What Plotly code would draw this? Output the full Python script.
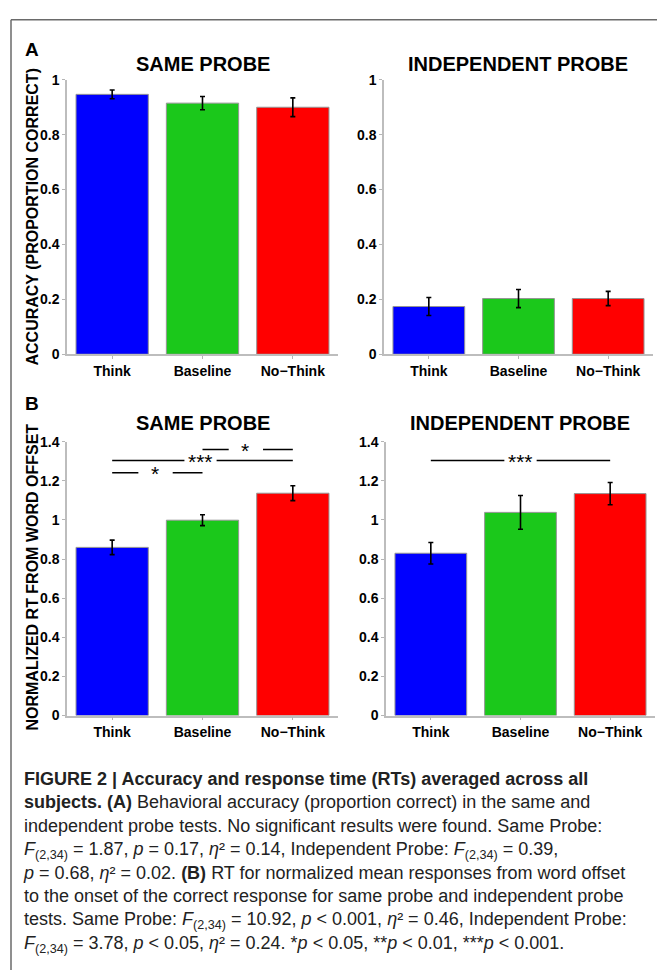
import plotly.graph_objects as go

W, H = 657, 978

categories = ["Think", "Baseline", "No\u2212Think"]
bar_colors = ["#0000FF", "#1BC81B", "#FF0000"]

# Panel A: accuracy (proportion correct)
acc_same = [0.947, 0.915, 0.900]
acc_same_err = [0.016, 0.024, 0.034]
acc_indep = [0.174, 0.203, 0.203]
acc_indep_err = [0.033, 0.033, 0.026]

# Panel B: normalized RT from word offset
rt_same = [0.860, 0.999, 1.137]
rt_same_err = [0.037, 0.028, 0.038]
rt_indep = [0.830, 1.039, 1.135]
rt_indep_err = [0.055, 0.086, 0.057]

# significance brackets: (from idx, to idx, y level, label, gap start, gap end, label x)
sig_same = [(0, 1, 1.242, "*", 0.29, 0.67, 0.47),
            (0, 2, 1.304, "***", 0.80, 1.156, 0.978),
            (1, 2, 1.36, "*", 1.29, 1.67, 1.47)]
sig_indep = [(0, 2, 1.304, "***", 0.82, 1.18, 1.0)]

panel_titles = ["SAME PROBE", "INDEPENDENT PROBE", "SAME PROBE", "INDEPENDENT PROBE"]

def px_x(p):
    return p / W

def px_y(p):
    return 1 - p / H

fig = go.Figure()

panels = [
    ("x", "y", acc_same, acc_same_err),
    ("x2", "y2", acc_indep, acc_indep_err),
    ("x3", "y3", rt_same, rt_same_err),
    ("x4", "y4", rt_indep, rt_indep_err),
]
for xa, ya, vals, errs in panels:
    fig.add_trace(go.Bar(
        x=[0, 1, 2], y=vals, xaxis=xa, yaxis=ya,
        marker=dict(color=bar_colors, line=dict(color="#959595", width=1)),
        error_y=dict(type="data", array=errs, visible=True, color="black",
                     thickness=1.6, width=2.5),
        width=0.8, showlegend=False, hoverinfo="skip",
    ))

axis_common = dict(showline=True, linecolor="#bdbdbd", linewidth=1.5,
                   ticks="outside", ticklen=3, tickcolor="#b5b5b5", tickwidth=1,
                   showgrid=False, zeroline=False,
                   tickfont=dict(family="Liberation Sans, Arial", size=14, color="black", weight="bold"))

domains = {
    "A_left_x": [px_x(67), px_x(338)],
    "A_right_x": [px_x(384), px_x(653)],
    "B_left_x": [px_x(67), px_x(338)],
    "B_right_x": [px_x(386), px_x(655)],
    "A_y": [px_y(352), px_y(73)],
    "B_y": [px_y(719.3), px_y(441)],
}

xcommon = dict(axis_common, range=[-0.5, 2.5], tickvals=[0, 1, 2], ticktext=categories)
fig.update_layout(
    xaxis=dict(xcommon, domain=domains["A_left_x"], anchor="y"),
    yaxis=dict(axis_common, domain=domains["A_y"], range=[0, 1], dtick=0.2, anchor="x"),
    xaxis2=dict(xcommon, domain=domains["A_right_x"], anchor="y2"),
    yaxis2=dict(axis_common, domain=domains["A_y"], range=[0, 1], dtick=0.2, anchor="x2"),
    xaxis3=dict(xcommon, domain=domains["B_left_x"], anchor="y3"),
    yaxis3=dict(axis_common, domain=domains["B_y"], range=[0, 1.4], dtick=0.2, anchor="x3"),
    xaxis4=dict(xcommon, domain=domains["B_right_x"], anchor="y4"),
    yaxis4=dict(axis_common, domain=domains["B_y"], range=[0, 1.4], dtick=0.2, anchor="x4"),
)

bold_font = dict(family="Liberation Sans, Arial", color="black", weight="bold")

# Panel titles
title_pos = [(202.5, 57), (518, 57), (202.5, 422), (520, 422)]
for t, (tx, ty) in zip(panel_titles, title_pos):
    fig.add_annotation(text=t, x=px_x(tx), y=px_y(ty), xref="paper", yref="paper",
                       showarrow=False, xanchor="center", yanchor="middle",
                       font=dict(bold_font, size=20))

# Panel letters
for letter, ly in [("A", 42), ("B", 402)]:
    fig.add_annotation(text=letter, x=px_x(23), y=px_y(ly), xref="paper", yref="paper",
                       showarrow=False, xanchor="left", yanchor="middle",
                       font=dict(bold_font, size=19))

# Y axis titles (rotated)
for txt, cy in [("ACCURACY (PROPORTION CORRECT)", 213), ("NORMALIZED RT FROM WORD OFFSET", 579)]:
    fig.add_annotation(text=txt, x=px_x(33), y=px_y(cy), xref="paper", yref="paper",
                       showarrow=False, textangle=-90, xanchor="center", yanchor="middle",
                       font=dict(bold_font, size=16))

# Significance markers
def add_sig(xa, ya, a, b, yv, label, g0, g1, lx):
    for s0, s1 in [(a, g0), (g1, b)]:
        fig.add_shape(type="line", xref=xa, yref=ya, x0=s0, x1=s1, y0=yv, y1=yv,
                      line=dict(color="black", width=1.5))
    fig.add_annotation(text=label, x=lx, y=yv, xref=xa, yref=ya,
                       showarrow=False, xanchor="center", yanchor="middle", yshift=-1,
                       font=dict(family="Liberation Sans, Arial", size=21, color="black"))

for a, b, yv, lab, g0, g1, lx in sig_same:
    add_sig("x3", "y3", a, b, yv, lab, g0, g1, lx)
for a, b, yv, lab, g0, g1, lx in sig_indep:
    add_sig("x4", "y4", a, b, yv, lab, g0, g1, lx)

# Outer frame (top and left edges)
fig.add_shape(type="line", xref="paper", yref="paper", x0=px_x(11), x1=1.0,
              y0=px_y(12), y1=px_y(12), layer="above", line=dict(color="#6a6a6a", width=1.5))
fig.add_shape(type="line", xref="paper", yref="paper", x0=px_x(11), x1=px_x(11),
              y0=px_y(12), y1=0, layer="above", line=dict(color="#6a6a6a", width=1.5))

# Caption (one block, natural line spacing)
eta2 = "<i>\u03b7</i>\u00b2"
caption_lines = [
    "<b>FIGURE 2 | Accuracy and response time (RTs) averaged across all</b>",
    "<b>subjects. (A)</b> Behavioral accuracy (proportion correct) in the same and",
    "independent probe tests. No significant results were found. Same Probe:",
    f"<i>F</i><sub>(2,34)</sub> = 1.87, <i>p</i> = 0.17, {eta2} = 0.14, Independent Probe: <i>F</i><sub>(2,34)</sub> = 0.39,",
    f"<i>p</i> = 0.68, {eta2} = 0.02. <b>(B)</b> RT for normalized mean responses from word offset",
    "to the onset of the correct response for same probe and independent probe",
    f"tests. Same Probe: <i>F</i><sub>(2,34)</sub> = 10.92, <i>p</i> &lt; 0.001, {eta2} = 0.46, Independent Probe:",
    f"<i>F</i><sub>(2,34)</sub> = 3.78, <i>p</i> &lt; 0.05, {eta2} = 0.24. *<i>p</i> &lt; 0.05, **<i>p</i> &lt; 0.01, ***<i>p</i> &lt; 0.001.",
]
fig.add_annotation(text="<br>".join(caption_lines), x=px_x(21), y=px_y(868.5),
                   xref="paper", yref="paper", showarrow=False,
                   xanchor="left", yanchor="middle", align="left",
                   font=dict(family="Liberation Sans, Arial", size=18, color="#222222"))

fig.update_layout(
    width=W, height=H, margin=dict(l=0, r=0, t=0, b=0),
    paper_bgcolor="white", plot_bgcolor="white", bargap=0.2,
)

fig.write_html("out.html", config={"displayModeBar": False},
               post_script="document.body.style.margin='0';")
